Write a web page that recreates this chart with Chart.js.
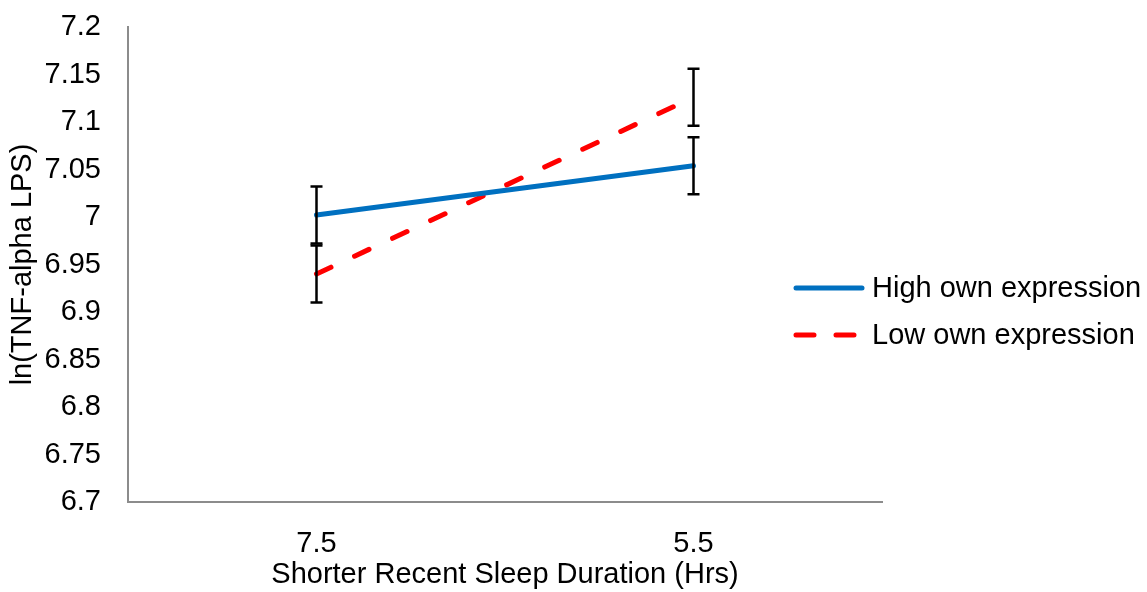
<!DOCTYPE html>
<html>
<head>
<meta charset="utf-8">
<script src="https://cdn.jsdelivr.net/npm/chart.js@4"></script>
<style>
  html, body { margin: 0; padding: 0; background: #fff; }
  #wrap { position: relative; width: 1147px; height: 592px; }
  #legend { position: absolute; left: 792px; top: 264px; font-family: "Liberation Sans", Arial, sans-serif; font-size: 29px; color: #000; }
  #legend div { display: flex; align-items: center; height: 47px; white-space: nowrap; }
  #legend svg { margin-right: 6px; }
</style>
</head>
<body>
<div id="wrap">
  <canvas id="chart" width="1147" height="592"></canvas>
  <div id="legend"></div>
</div>
<script>
const categories = ['7.5', '5.5'];
const highValues = [7.002, 7.054];
const highErrors = [0.03, 0.03];
const lowValues = [6.940, 7.126];
const lowErrors = [0.03, 0.03];
const yTicks = [6.7, 6.75, 6.8, 6.85, 6.9, 6.95, 7, 7.05, 7.1, 7.15, 7.2];

const font = { family: '"Liberation Sans", Arial, sans-serif', size: 29 };

const errorBars = {
  id: 'errorBars',
  afterDatasetsDraw(chart) {
    const ctx = chart.ctx;
    const x = chart.scales.x;
    const y = chart.scales.y;
    ctx.save();
    ctx.strokeStyle = '#000';
    ctx.lineWidth = 2.5;
    chart.data.datasets.forEach(ds => {
      ds.data.forEach((v, i) => {
        const px = x.getPixelForValue(i);
        const top = y.getPixelForValue(v + ds.errors[i]);
        const bot = y.getPixelForValue(v - ds.errors[i]);
        ctx.beginPath();
        ctx.moveTo(px, top);
        ctx.lineTo(px, bot);
        ctx.moveTo(px - 6, top);
        ctx.lineTo(px + 6, top);
        ctx.moveTo(px - 6, bot);
        ctx.lineTo(px + 6, bot);
        ctx.stroke();
      });
    });
    ctx.restore();
  }
};

const chart = new Chart(document.getElementById('chart'), {
  type: 'line',
  data: {
    labels: categories,
    datasets: [
      {
        label: 'High own expression',
        data: highValues,
        errors: highErrors,
        borderColor: '#0070C0',
        borderWidth: 5,
        borderCapStyle: 'round',
        pointRadius: 0,
        fill: false
      },
      {
        label: 'Low own expression',
        data: lowValues,
        errors: lowErrors,
        borderColor: '#FF0000',
        borderWidth: 5,
        borderDash: [16, 26],
        borderCapStyle: 'round',
        pointRadius: 0,
        fill: false
      }
    ]
  },
  options: {
    responsive: false,
    animation: false,
    layout: { padding: { left: 6, right: 265, top: 27, bottom: 0 } },
    plugins: {
      legend: { display: false },
      tooltip: { enabled: false }
    },
    scales: {
      x: {
        offset: true,
        grid: { display: false, drawTicks: false },
        border: { display: true, color: '#8c8c8c', width: 2 },
        ticks: { color: '#000', font: font, padding: 25 },
        title: { display: true, text: 'Shorter Recent Sleep Duration (Hrs)', color: '#000', font: font, padding: { top: 0, bottom: 0 } },
        afterFit: axis => { axis.height = 90; }
      },
      y: {
        min: 6.7,
        max: 7.2,
        afterBuildTicks: axis => { axis.ticks = yTicks.map(v => ({ value: v })); },
        grid: { display: false, drawTicks: false },
        border: { display: true, color: '#8c8c8c', width: 2 },
        ticks: { color: '#000', font: font, padding: 27, callback: v => String(Number(v.toFixed(2))) },
        title: { display: true, text: 'ln(TNF-alpha LPS)', color: '#000', font: font, padding: { top: 0, bottom: 0 } },
        afterFit: axis => { axis.width = 122; axis.paddingTop = 0; axis.paddingBottom = 0; }
      }
    }
  },
  plugins: [errorBars]
});

const legend = document.getElementById('legend');
chart.data.datasets.forEach(ds => {
  const row = document.createElement('div');
  const dash = ds.borderDash ? '18 22' : '';
  row.innerHTML = `
    <svg width="74" height="10"><line x1="4" y1="5" x2="70" y2="5" stroke="${ds.borderColor}" stroke-width="5" stroke-linecap="round" stroke-dasharray="${dash}"/></svg>
    <span>${ds.label}</span>
  `;
  legend.appendChild(row);
});
</script>
</body>
</html>
